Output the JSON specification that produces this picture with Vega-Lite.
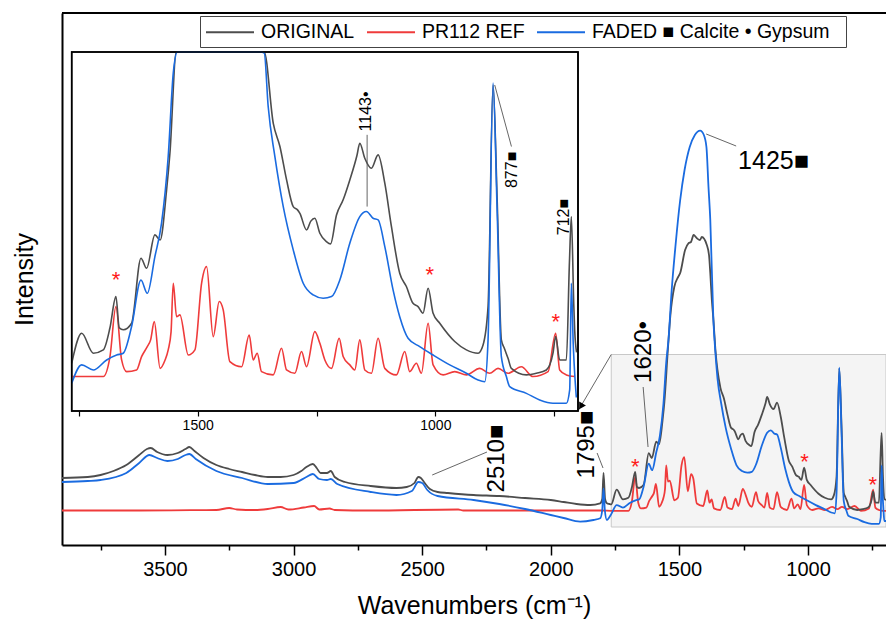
{
"$schema":"https://vega.github.io/schema/vega-lite/v6.json",
"width":824,"height":532,
"autosize":{"type":"none"},
"padding":{"left":62,"top":13,"right":0,"bottom":79},
"background":"white",
"config":{"view":{"stroke":null},"font":"Liberation Sans"},
"datasets":{
"spectra":[
{"s":"PR112 REF","wn":3900,"v":34.5},{"s":"PR112 REF","wn":3600,"v":34.5},{"s":"PR112 REF","wn":3400,"v":34.8},{"s":"PR112 REF","wn":3300,"v":35},{"s":"PR112 REF","wn":3250,"v":37},{"s":"PR112 REF","wn":3220,"v":35.5},{"s":"PR112 REF","wn":3150,"v":35},{"s":"PR112 REF","wn":3100,"v":36},{"s":"PR112 REF","wn":3050,"v":38},{"s":"PR112 REF","wn":3020,"v":35.5},{"s":"PR112 REF","wn":2960,"v":37.5},{"s":"PR112 REF","wn":2920,"v":39},{"s":"PR112 REF","wn":2900,"v":35.5},{"s":"PR112 REF","wn":2860,"v":36.5},{"s":"PR112 REF","wn":2840,"v":35},{"s":"PR112 REF","wn":2700,"v":34.5},{"s":"PR112 REF","wn":2360,"v":35.5},{"s":"PR112 REF","wn":2340,"v":34.5},{"s":"PR112 REF","wn":2000,"v":34.5},{"s":"PR112 REF","wn":1800,"v":34.5},{"s":"PR112 REF","wn":1765,"v":34.2},{"s":"PR112 REF","wn":1698.5,"v":34.2},{"s":"PR112 REF","wn":1684.5,"v":43.9},{"s":"PR112 REF","wn":1672,"v":68.3},{"s":"PR112 REF","wn":1660,"v":42.3},{"s":"PR112 REF","wn":1649.5,"v":36.6},{"s":"PR112 REF","wn":1628.5,"v":37.4},{"s":"PR112 REF","wn":1618,"v":43.9},{"s":"PR112 REF","wn":1606,"v":48.8},{"s":"PR112 REF","wn":1599,"v":52.1},{"s":"PR112 REF","wn":1591.3,"v":61},{"s":"PR112 REF","wn":1579,"v":38.2},{"s":"PR112 REF","wn":1569,"v":42},{"s":"PR112 REF","wn":1562,"v":47.2},{"s":"PR112 REF","wn":1556,"v":56},{"s":"PR112 REF","wn":1551.4,"v":79.7},{"s":"PR112 REF","wn":1544.4,"v":63.4},{"s":"PR112 REF","wn":1537.4,"v":64.3},{"s":"PR112 REF","wn":1519.8,"v":44.7},{"s":"PR112 REF","wn":1505.8,"v":47.2},{"s":"PR112 REF","wn":1491.8,"v":79.7},{"s":"PR112 REF","wn":1481.3,"v":87.8},{"s":"PR112 REF","wn":1467.3,"v":53.7},{"s":"PR112 REF","wn":1454.7,"v":70.8},{"s":"PR112 REF","wn":1446.3,"v":66.7},{"s":"PR112 REF","wn":1432.3,"v":41.5},{"s":"PR112 REF","wn":1407.7,"v":39},{"s":"PR112 REF","wn":1391.6,"v":54.5},{"s":"PR112 REF","wn":1383.2,"v":42.3},{"s":"PR112 REF","wn":1374.8,"v":45.6},{"s":"PR112 REF","wn":1365.7,"v":36.6},{"s":"PR112 REF","wn":1341.2,"v":35},{"s":"PR112 REF","wn":1323.6,"v":48},{"s":"PR112 REF","wn":1313.1,"v":37.4},{"s":"PR112 REF","wn":1295.6,"v":35.8},{"s":"PR112 REF","wn":1281.6,"v":46.4},{"s":"PR112 REF","wn":1271,"v":39},{"s":"PR112 REF","wn":1253.6,"v":56.1},{"s":"PR112 REF","wn":1243,"v":50.4},{"s":"PR112 REF","wn":1232.5,"v":42.3},{"s":"PR112 REF","wn":1218.5,"v":38.2},{"s":"PR112 REF","wn":1202.4,"v":52.9},{"s":"PR112 REF","wn":1194,"v":44},{"s":"PR112 REF","wn":1180,"v":39.9},{"s":"PR112 REF","wn":1169.5,"v":37.4},{"s":"PR112 REF","wn":1159,"v":52.1},{"s":"PR112 REF","wn":1148.5,"v":37.4},{"s":"PR112 REF","wn":1134.5,"v":35.8},{"s":"PR112 REF","wn":1120.5,"v":52.9},{"s":"PR112 REF","wn":1106.4,"v":38.2},{"s":"PR112 REF","wn":1082,"v":35},{"s":"PR112 REF","wn":1064.4,"v":46.4},{"s":"PR112 REF","wn":1054,"v":36.6},{"s":"PR112 REF","wn":1040,"v":40.7},{"s":"PR112 REF","wn":1029.4,"v":35.8},{"s":"PR112 REF","wn":1015.3,"v":60.2},{"s":"PR112 REF","wn":1004.8,"v":39.9},{"s":"PR112 REF","wn":983.8,"v":35},{"s":"PR112 REF","wn":959.3,"v":36.6},{"s":"PR112 REF","wn":934.8,"v":35},{"s":"PR112 REF","wn":906.7,"v":38.2},{"s":"PR112 REF","wn":885.7,"v":35.8},{"s":"PR112 REF","wn":868.2,"v":38.2},{"s":"PR112 REF","wn":847.2,"v":35.8},{"s":"PR112 REF","wn":819.1,"v":39},{"s":"PR112 REF","wn":794.6,"v":34.2},{"s":"PR112 REF","wn":763,"v":36.6},{"s":"PR112 REF","wn":747,"v":55.3},{"s":"PR112 REF","wn":738.5,"v":37.4},{"s":"PR112 REF","wn":724.5,"v":35},{"s":"PR112 REF","wn":707,"v":34.2},{"s":"PR112 REF","wn":697,"v":34.2},
{"s":"ORIGINAL","wn":3900,"v":67},{"s":"ORIGINAL","wn":3800,"v":68},{"s":"ORIGINAL","wn":3750,"v":70},{"s":"ORIGINAL","wn":3700,"v":74},{"s":"ORIGINAL","wn":3650,"v":80},{"s":"ORIGINAL","wn":3600,"v":90},{"s":"ORIGINAL","wn":3570,"v":96},{"s":"ORIGINAL","wn":3555,"v":97},{"s":"ORIGINAL","wn":3530,"v":93},{"s":"ORIGINAL","wn":3490,"v":90},{"s":"ORIGINAL","wn":3450,"v":92},{"s":"ORIGINAL","wn":3420,"v":96},{"s":"ORIGINAL","wn":3405,"v":98},{"s":"ORIGINAL","wn":3385,"v":94},{"s":"ORIGINAL","wn":3350,"v":87},{"s":"ORIGINAL","wn":3300,"v":80},{"s":"ORIGINAL","wn":3250,"v":76},{"s":"ORIGINAL","wn":3200,"v":73},{"s":"ORIGINAL","wn":3150,"v":70},{"s":"ORIGINAL","wn":3100,"v":68},{"s":"ORIGINAL","wn":3050,"v":68},{"s":"ORIGINAL","wn":3000,"v":70},{"s":"ORIGINAL","wn":2970,"v":74},{"s":"ORIGINAL","wn":2950,"v":78},{"s":"ORIGINAL","wn":2925,"v":81},{"s":"ORIGINAL","wn":2910,"v":77},{"s":"ORIGINAL","wn":2895,"v":72},{"s":"ORIGINAL","wn":2870,"v":72},{"s":"ORIGINAL","wn":2855,"v":74},{"s":"ORIGINAL","wn":2840,"v":68},{"s":"ORIGINAL","wn":2800,"v":63},{"s":"ORIGINAL","wn":2700,"v":59},{"s":"ORIGINAL","wn":2600,"v":57},{"s":"ORIGINAL","wn":2560,"v":58},{"s":"ORIGINAL","wn":2530,"v":62},{"s":"ORIGINAL","wn":2515,"v":68},{"s":"ORIGINAL","wn":2505,"v":67},{"s":"ORIGINAL","wn":2490,"v":62},{"s":"ORIGINAL","wn":2470,"v":56},{"s":"ORIGINAL","wn":2440,"v":53},{"s":"ORIGINAL","wn":2400,"v":52},{"s":"ORIGINAL","wn":2300,"v":50},{"s":"ORIGINAL","wn":2200,"v":49},{"s":"ORIGINAL","wn":2100,"v":47},{"s":"ORIGINAL","wn":2000,"v":45},{"s":"ORIGINAL","wn":1950,"v":43},{"s":"ORIGINAL","wn":1900,"v":41},{"s":"ORIGINAL","wn":1847,"v":40},{"s":"ORIGINAL","wn":1808,"v":41.7},{"s":"ORIGINAL","wn":1800,"v":46},{"s":"ORIGINAL","wn":1795,"v":72},{"s":"ORIGINAL","wn":1789,"v":46},{"s":"ORIGINAL","wn":1782,"v":41.7},{"s":"ORIGINAL","wn":1772,"v":41},{"s":"ORIGINAL","wn":1765,"v":40.7},{"s":"ORIGINAL","wn":1744,"v":55.3},{"s":"ORIGINAL","wn":1719.5,"v":45.6},{"s":"ORIGINAL","wn":1698.5,"v":47.2},{"s":"ORIGINAL","wn":1684.5,"v":58},{"s":"ORIGINAL","wn":1672,"v":73.2},{"s":"ORIGINAL","wn":1665,"v":58},{"s":"ORIGINAL","wn":1656.5,"v":57},{"s":"ORIGINAL","wn":1639,"v":60.2},{"s":"ORIGINAL","wn":1619.3,"v":91.9},{"s":"ORIGINAL","wn":1607.4,"v":87},{"s":"ORIGINAL","wn":1590,"v":103.3},{"s":"ORIGINAL","wn":1579,"v":100.8},{"s":"ORIGINAL","wn":1565.4,"v":125.2},{"s":"ORIGINAL","wn":1558.4,"v":143.1},{"s":"ORIGINAL","wn":1545,"v":195},{"s":"ORIGINAL","wn":1535,"v":230},{"s":"ORIGINAL","wn":1520,"v":258},{"s":"ORIGINAL","wn":1505,"v":268},{"s":"ORIGINAL","wn":1497,"v":272},{"s":"ORIGINAL","wn":1478,"v":295},{"s":"ORIGINAL","wn":1465,"v":301.7},{"s":"ORIGINAL","wn":1455,"v":303},{"s":"ORIGINAL","wn":1445,"v":310},{"s":"ORIGINAL","wn":1432,"v":306.7},{"s":"ORIGINAL","wn":1420,"v":305},{"s":"ORIGINAL","wn":1413,"v":308},{"s":"ORIGINAL","wn":1393.5,"v":300},{"s":"ORIGINAL","wn":1385,"v":290},{"s":"ORIGINAL","wn":1380,"v":271.7},{"s":"ORIGINAL","wn":1374,"v":245},{"s":"ORIGINAL","wn":1367.7,"v":225},{"s":"ORIGINAL","wn":1360,"v":195},{"s":"ORIGINAL","wn":1341,"v":157.7},{"s":"ORIGINAL","wn":1327,"v":146.4},{"s":"ORIGINAL","wn":1313,"v":130.1},{"s":"ORIGINAL","wn":1299,"v":117.1},{"s":"ORIGINAL","wn":1290,"v":115.5},{"s":"ORIGINAL","wn":1285,"v":113.8},{"s":"ORIGINAL","wn":1271,"v":105.7},{"s":"ORIGINAL","wn":1262,"v":110},{"s":"ORIGINAL","wn":1253.6,"v":111.4},{"s":"ORIGINAL","wn":1243,"v":104.1},{"s":"ORIGINAL","wn":1229,"v":100},{"s":"ORIGINAL","wn":1220.6,"v":98.9},{"s":"ORIGINAL","wn":1208,"v":113},{"s":"ORIGINAL","wn":1194,"v":120.4},{"s":"ORIGINAL","wn":1180,"v":130.1},{"s":"ORIGINAL","wn":1165,"v":142},{"s":"ORIGINAL","wn":1159,"v":148},{"s":"ORIGINAL","wn":1148.5,"v":140.7},{"s":"ORIGINAL","wn":1134.5,"v":135.8},{"s":"ORIGINAL","wn":1120.5,"v":142.3},{"s":"ORIGINAL","wn":1106.4,"v":128.5},{"s":"ORIGINAL","wn":1092.4,"v":107.3},{"s":"ORIGINAL","wn":1075,"v":84.6},{"s":"ORIGINAL","wn":1061,"v":78.1},{"s":"ORIGINAL","wn":1047,"v":69.9},{"s":"ORIGINAL","wn":1036.4,"v":68.3},{"s":"ORIGINAL","wn":1026,"v":65.1},{"s":"ORIGINAL","wn":1015.3,"v":77.3},{"s":"ORIGINAL","wn":1004.8,"v":65.1},{"s":"ORIGINAL","wn":990.8,"v":60.2},{"s":"ORIGINAL","wn":959.3,"v":51.3},{"s":"ORIGINAL","wn":934.8,"v":47.2},{"s":"ORIGINAL","wn":910.2,"v":45.6},{"s":"ORIGINAL","wn":899.7,"v":49.6},{"s":"ORIGINAL","wn":889.2,"v":68.3},{"s":"ORIGINAL","wn":878.7,"v":176.4},{"s":"ORIGINAL","wn":870,"v":120},{"s":"ORIGINAL","wn":861.2,"v":52.1},{"s":"ORIGINAL","wn":855,"v":48},{"s":"ORIGINAL","wn":847.2,"v":43.1},{"s":"ORIGINAL","wn":840.2,"v":38.2},{"s":"ORIGINAL","wn":808.6,"v":35},{"s":"ORIGINAL","wn":787.6,"v":35.8},{"s":"ORIGINAL","wn":766.6,"v":37.4},{"s":"ORIGINAL","wn":752.6,"v":45.6},{"s":"ORIGINAL","wn":747,"v":53.7},{"s":"ORIGINAL","wn":738.5,"v":42.3},{"s":"ORIGINAL","wn":724.5,"v":42.3},{"s":"ORIGINAL","wn":718,"v":90},{"s":"ORIGINAL","wn":714,"v":112.2},{"s":"ORIGINAL","wn":709,"v":70},{"s":"ORIGINAL","wn":707,"v":57},{"s":"ORIGINAL","wn":703,"v":46},{"s":"ORIGINAL","wn":697,"v":45},
{"s":"FADED","wn":3900,"v":63},{"s":"FADED","wn":3800,"v":64},{"s":"FADED","wn":3750,"v":65},{"s":"FADED","wn":3650,"v":72},{"s":"FADED","wn":3600,"v":82},{"s":"FADED","wn":3560,"v":90},{"s":"FADED","wn":3530,"v":87},{"s":"FADED","wn":3490,"v":84},{"s":"FADED","wn":3450,"v":86},{"s":"FADED","wn":3420,"v":90},{"s":"FADED","wn":3405,"v":91},{"s":"FADED","wn":3380,"v":86},{"s":"FADED","wn":3300,"v":74},{"s":"FADED","wn":3200,"v":67},{"s":"FADED","wn":3100,"v":61},{"s":"FADED","wn":3000,"v":62},{"s":"FADED","wn":2950,"v":68},{"s":"FADED","wn":2925,"v":71},{"s":"FADED","wn":2900,"v":66},{"s":"FADED","wn":2870,"v":65},{"s":"FADED","wn":2855,"v":66},{"s":"FADED","wn":2830,"v":61},{"s":"FADED","wn":2700,"v":53},{"s":"FADED","wn":2600,"v":50},{"s":"FADED","wn":2540,"v":54},{"s":"FADED","wn":2515,"v":63},{"s":"FADED","wn":2500,"v":62},{"s":"FADED","wn":2480,"v":55},{"s":"FADED","wn":2440,"v":49},{"s":"FADED","wn":2300,"v":45},{"s":"FADED","wn":2200,"v":41},{"s":"FADED","wn":2100,"v":36},{"s":"FADED","wn":2000,"v":30},{"s":"FADED","wn":1950,"v":27},{"s":"FADED","wn":1886,"v":23.3},{"s":"FADED","wn":1834,"v":25},{"s":"FADED","wn":1808,"v":26.7},{"s":"FADED","wn":1800,"v":35},{"s":"FADED","wn":1795,"v":56.7},{"s":"FADED","wn":1790,"v":35},{"s":"FADED","wn":1782,"v":25},{"s":"FADED","wn":1772,"v":28},{"s":"FADED","wn":1765,"v":30.9},{"s":"FADED","wn":1744,"v":39.9},{"s":"FADED","wn":1719.5,"v":37.4},{"s":"FADED","wn":1691.5,"v":42.3},{"s":"FADED","wn":1670.5,"v":44.7},{"s":"FADED","wn":1656.5,"v":45.6},{"s":"FADED","wn":1639,"v":58.6},{"s":"FADED","wn":1619.3,"v":81.3},{"s":"FADED","wn":1606,"v":74.8},{"s":"FADED","wn":1590,"v":92.7},{"s":"FADED","wn":1576,"v":109},{"s":"FADED","wn":1562,"v":141.5},{"s":"FADED","wn":1551.4,"v":182.1},{"s":"FADED","wn":1542.6,"v":205},{"s":"FADED","wn":1530,"v":255},{"s":"FADED","wn":1515,"v":300},{"s":"FADED","wn":1497,"v":345},{"s":"FADED","wn":1480,"v":375},{"s":"FADED","wn":1460,"v":398},{"s":"FADED","wn":1440,"v":410},{"s":"FADED","wn":1419.4,"v":414.3},{"s":"FADED","wn":1405,"v":410},{"s":"FADED","wn":1395,"v":398},{"s":"FADED","wn":1387,"v":358},{"s":"FADED","wn":1380,"v":325},{"s":"FADED","wn":1368,"v":225},{"s":"FADED","wn":1360,"v":192},{"s":"FADED","wn":1351.7,"v":165.9},{"s":"FADED","wn":1337.6,"v":141.5},{"s":"FADED","wn":1320,"v":117.1},{"s":"FADED","wn":1299,"v":96},{"s":"FADED","wn":1278,"v":79.7},{"s":"FADED","wn":1257,"v":74},{"s":"FADED","wn":1236,"v":72.4},{"s":"FADED","wn":1218.5,"v":73.2},{"s":"FADED","wn":1201,"v":81.3},{"s":"FADED","wn":1180,"v":99.2},{"s":"FADED","wn":1159,"v":112.2},{"s":"FADED","wn":1145,"v":114.7},{"s":"FADED","wn":1131,"v":111.4},{"s":"FADED","wn":1120.5,"v":110.6},{"s":"FADED","wn":1106.4,"v":97.6},{"s":"FADED","wn":1089,"v":76.5},{"s":"FADED","wn":1075,"v":63.4},{"s":"FADED","wn":1057.4,"v":52.9},{"s":"FADED","wn":1033,"v":48.8},{"s":"FADED","wn":1004.8,"v":44.7},{"s":"FADED","wn":969.8,"v":39.9},{"s":"FADED","wn":934.8,"v":35.8},{"s":"FADED","wn":910.2,"v":32.5},{"s":"FADED","wn":896.2,"v":31.7},{"s":"FADED","wn":889.2,"v":52.1},{"s":"FADED","wn":878.7,"v":177.3},{"s":"FADED","wn":870.3,"v":117.1},{"s":"FADED","wn":861.2,"v":43.9},{"s":"FADED","wn":850.7,"v":34.2},{"s":"FADED","wn":843.6,"v":29.3},{"s":"FADED","wn":808.6,"v":26},{"s":"FADED","wn":780.6,"v":22.8},{"s":"FADED","wn":752.6,"v":21.2},{"s":"FADED","wn":724.5,"v":21.2},{"s":"FADED","wn":717.5,"v":27.7},{"s":"FADED","wn":714,"v":79.7},{"s":"FADED","wn":710,"v":50},{"s":"FADED","wn":707,"v":35.8},{"s":"FADED","wn":703.5,"v":24},{"s":"FADED","wn":697,"v":24}
]
},
"layer":[
{
"encoding":{
"x":{"field":"wn","type":"quantitative","scale":{"domain":[697,3900],"reverse":true,"nice":false,"zero":false},
"axis":{"values":[3750,3500,3250,3000,2750,2500,2250,2000,1750,1500,1250,1000,750],"format":"d","labelExpr":"datum.value % 500 === 0 ? datum.label : ''","tickSize":{"condition":{"test":"datum.value % 500 === 0","value":10},"value":5},"tickColor":"black","tickWidth":1.5,"domainColor":"black","domainWidth":2,"grid":false,"labelFont":"Liberation Sans","labelFontSize":20,"labelColor":"black","labelPadding":4,"title":"Wavenumbers (cm⁻¹)","titleFont":"Liberation Sans","titleFontSize":25,"titleFontWeight":"normal","titleColor":"black","titlePadding":14}},
"y":{"field":"v","type":"quantitative","scale":{"domain":[0,532],"nice":false,"zero":false},
"axis":{"title":"Intensity","labels":false,"ticks":false,"grid":false,"domainColor":"black","domainWidth":2,"titleFont":"Liberation Sans","titleFontSize":25,"titleFontWeight":"normal","titleColor":"black","titlePadding":25}}
},
"layer":[
{"data":{"values":[{"wn":1765,"wn2":697,"v":18,"v2":190.5}]},"mark":{"type":"rect","fill":"#f4f4f4","stroke":"#c8c8c8","strokeWidth":1},"encoding":{"x2":{"field":"wn2"},"y2":{"field":"v2"}}},
{"data":{"values":[{"wn":3900,"wn2":697,"v":532}]},"mark":{"type":"rule","color":"black","strokeWidth":2},"encoding":{"x2":{"field":"wn2"}}},
{"data":{"name":"spectra"},"mark":{"type":"line","strokeWidth":1.8,"interpolate":"monotone"},
"encoding":{"color":{"field":"s","type":"nominal","scale":{"domain":["ORIGINAL","PR112 REF","FADED"],"range":["#4d4d4d","#ef3b3b","#1a6be0"]},
"legend":{"orient":"none","legendX":138,"legendY":3,"direction":"horizontal","title":null,"symbolType":"M-2.4,0H2.4","symbolSize":400,"symbolStrokeWidth":2,"symbolOffset":14,"labelFont":"Liberation Sans","labelFontSize":19.5,"labelColor":"black","labelLimit":500,"labelOffset":20,"columnPadding":8,"padding":5,"strokeColor":"#444","fillColor":"white","labelExpr":"datum.label === 'FADED' ? 'FADED   ■ Calcite • Gypsum' : datum.label"}}}},
{"data":{"values":[{"wn":1396,"v":411,"wn2":1279.5,"v2":399},{"wn":1641,"v":158,"wn2":1622,"v2":98},{"wn":1820,"v":92,"wn2":1797,"v2":77},{"wn":2461,"v":70,"wn2":2248,"v2":93},{"wn":1765,"v":190.5,"wn2":1893,"v2":134.5}]},"mark":{"type":"rule","color":"#555","strokeWidth":0.9},"encoding":{"x2":{"field":"wn2"},"y2":{"field":"v2"}}},
{"data":{"values":[{"wn":1883,"v":138.6}]},"mark":{"type":"point","shape":"triangle-up","filled":true,"color":"black","size":60,"angle":210,"opacity":1}},
{"data":{"values":[{"t":"1620•","wn":1637,"v":193},{"t":"1795■","wn":1859,"v":100.5},{"t":"2510■","wn":2209,"v":86.5}]},"mark":{"type":"text","angle":270,"font":"Liberation Sans","fontSize":24,"align":"center","baseline":"middle","color":"black"},"encoding":{"text":{"field":"t"}}},
{"data":{"values":[{"t":"1425■","wn":1272,"v":384}]},"mark":{"type":"text","font":"Liberation Sans","fontSize":25,"align":"left","baseline":"middle","color":"black"},"encoding":{"text":{"field":"t"}}},
{"data":{"values":[{"t":"*","wn":1672,"v":78.3},{"t":"*","wn":1014,"v":82.7},{"t":"*","wn":748,"v":60}]},"mark":{"type":"text","font":"Liberation Sans","fontSize":22,"align":"center","baseline":"middle","color":"#ff1a1a"},"encoding":{"text":{"field":"t"}}}
]
},
{
"encoding":{
"x":{"field":"wn","type":"quantitative","scale":{"domain":[700,1765],"range":[516,9.7],"nice":false,"zero":false},
"axis":{"orient":"bottom","offset":-134,"values":[1750,1500,1250,1000,750],"format":"d","labelExpr":"datum.value % 500 === 0 ? datum.label : ''","domain":false,"grid":false,"tickSize":5,"tickColor":"black","tickWidth":1.2,"labelFont":"Liberation Sans","labelFontSize":14,"labelColor":"black","labelPadding":2,"title":null}},
"y":{"field":"v","type":"quantitative","scale":{"domain":[17.4,192.5],"range":[398,39],"clamp":true,"nice":false,"zero":false},"axis":null}
},
"layer":[
{"data":{"values":[{"wn":1765,"wn2":700,"v":17.4,"v2":192.5}]},"mark":{"type":"rect","fill":"white","stroke":"black","strokeWidth":1.5},"encoding":{"x2":{"field":"wn2"},"y2":{"field":"v2"}}},
{"data":{"name":"spectra"},"transform":[{"filter":"datum.wn <= 1765 && datum.wn >= 700"}],"mark":{"type":"line","strokeWidth":1.6,"interpolate":"monotone"},
"encoding":{"color":{"field":"s","type":"nominal","scale":{"domain":["ORIGINAL","PR112 REF","FADED"],"range":["#4d4d4d","#ef3b3b","#1a6be0"]},
"legend":{"orient":"none","legendX":138,"legendY":3,"direction":"horizontal","title":null,"symbolType":"M-2.4,0H2.4","symbolSize":400,"symbolStrokeWidth":2,"symbolOffset":14,"labelFont":"Liberation Sans","labelFontSize":19.5,"labelColor":"black","labelLimit":500,"labelOffset":20,"columnPadding":8,"padding":5,"strokeColor":"#444","fillColor":"white","labelExpr":"datum.label === 'FADED' ? 'FADED   ■ Calcite • Gypsum' : datum.label"}}}},
{"data":{"values":[{"wn":1765,"wn2":700,"v":17.4,"v2":192.5}]},"mark":{"type":"rect","fill":null,"fillOpacity":0,"stroke":"black","strokeWidth":1.6},"encoding":{"x2":{"field":"wn2"},"y2":{"field":"v2"}}},
{"data":{"values":[{"wn":1143.6,"v":152.1,"wn2":1143.6,"v2":117.1},{"wn":875.2,"v":176.4,"wn2":840,"v2":146.4}]},"mark":{"type":"rule","color":"#555","strokeWidth":0.9},"encoding":{"x2":{"field":"wn2"},"y2":{"field":"v2"}}},
{"data":{"values":[{"t":"1143•","wn":1145,"v":163.5},{"t":"877■","wn":838.8,"v":135},{"t":"712■","wn":730,"v":112}]},"mark":{"type":"text","angle":270,"font":"Liberation Sans","fontSize":16,"align":"center","baseline":"middle","color":"black"},"encoding":{"text":{"field":"t"}}},
{"data":{"values":[{"t":"*","wn":1672,"v":81.3},{"t":"*","wn":1012,"v":83.8},{"t":"*","wn":747,"v":61}]},"mark":{"type":"text","font":"Liberation Sans","fontSize":22,"align":"center","baseline":"middle","color":"#ff1a1a"},"encoding":{"text":{"field":"t"}}}
]
}
],
"resolve":{"scale":{"x":"independent","y":"independent"},"axis":{"x":"independent","y":"independent"}}
}
